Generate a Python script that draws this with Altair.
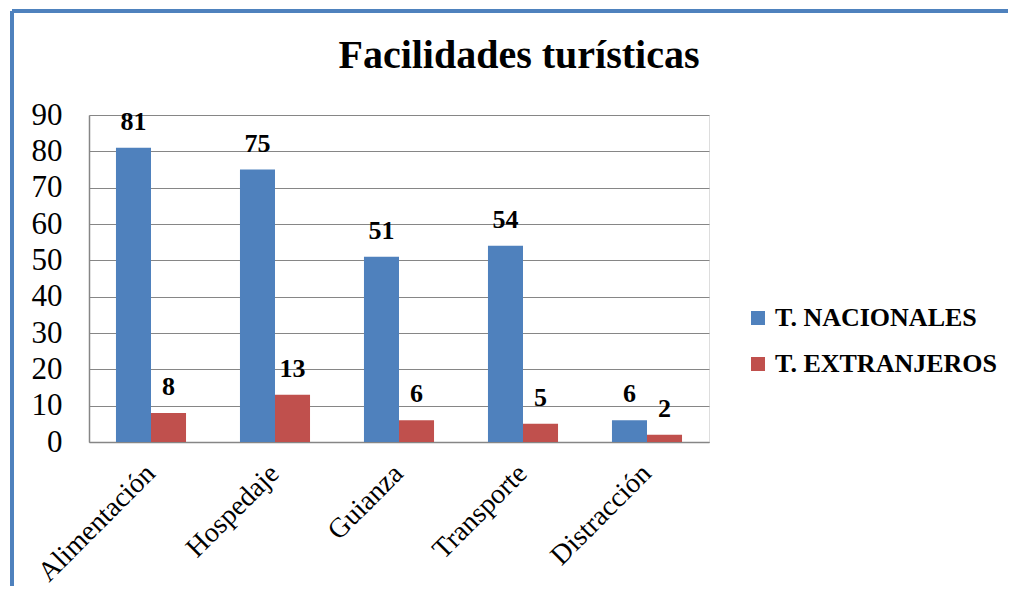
import altair as alt
import pandas as pd

categories = ["Alimentación", "Hospedaje", "Guianza", "Transporte", "Distracción"]
series = ["T. NACIONALES", "T. EXTRANJEROS"]
nacionales = [81, 75, 51, 54, 6]
extranjeros = [8, 13, 6, 5, 2]
colors = ["#4F81BD", "#C0504D"]
title_text = "Facilidades turísticas"

rows = []
for c, n, e in zip(categories, nacionales, extranjeros):
    rows.append({"cat": c, "serie": series[0], "val": n})
    rows.append({"cat": c, "serie": series[1], "val": e})
df = pd.DataFrame(rows)

FONT = "'Times New Roman', 'Liberation Serif', serif"
W, H = 620, 327

x = alt.X("cat:N", sort=categories, title=None,
          scale=alt.Scale(paddingInner=0.435, paddingOuter=0.2175),
          axis=alt.Axis(labelAngle=315, labelFont=FONT, labelFontSize=28,
                        labelColor="black", labelPadding=27, ticks=False,
                        domainColor="#868686", domainWidth=1.5, labelAlign="right",
                        labelBaseline="middle", grid=False, labelOverlap=False))
xo = alt.XOffset("serie:N", sort=series, scale=alt.Scale(paddingInner=0, paddingOuter=0))
y = alt.Y("val:Q", title=None,
          scale=alt.Scale(domain=[0, 90], nice=False),
          axis=alt.Axis(values=list(range(0, 91, 10)), labelFont=FONT, labelFontSize=31,
                        labelColor="black", labelPadding=27, ticks=False, labelOverlap=False,
                        labelBound=False, labelFlush=False,
                        domainColor="#868686", domainWidth=1.5,
                        gridColor="#868686", gridWidth=1.2))
color = alt.Color("serie:N", sort=series,
                  scale=alt.Scale(domain=series, range=colors),
                  legend=alt.Legend(title=None, orient="none", legendX=656, legendY=190,
                                    symbolType="square", symbolSize=196, symbolStrokeWidth=0,
                                    labelFont=FONT, labelFontSize=26, labelFontWeight="bold",
                                    labelColor="black", labelOffset=4, rowPadding=20,
                                    padding=0, labelLimit=400))

base = alt.Chart(df)
bars = base.mark_bar().encode(x=x, xOffset=xo, y=y, color=color)
labels = base.mark_text(font=FONT, fontSize=26, fontWeight="bold", baseline="alphabetic",
                        dy=-18, color="black").encode(
    x=x, xOffset=xo, y=y, text="val:Q")

title = alt.Chart(pd.DataFrame({"t": [title_text]})).mark_text(
    font=FONT, fontSize=40, fontWeight="bold", color="black",
    align="center", baseline="alphabetic").encode(
    x=alt.value(430), y=alt.value(-47), text="t:N")

border_left = alt.Chart(df).mark_rule(color="#4F81BD", strokeWidth=3).encode(
    x=alt.value(-77), y=alt.value(-104), y2=alt.value(480))
border_top = alt.Chart(df).mark_rule(color="#4F81BD", strokeWidth=3).encode(
    x=alt.value(-77), x2=alt.value(940), y=alt.value(-104))

chart = alt.layer(bars, labels, title, border_left, border_top).properties(
    width=W, height=H,
    autosize=alt.AutoSizeParams(type="none"),
    padding={"left": 81, "top": 107, "right": 299, "bottom": 144},
).configure_view(stroke=None).configure(background="white")

chart.save("out.html", embed_options={"renderer": "svg", "actions": False})
